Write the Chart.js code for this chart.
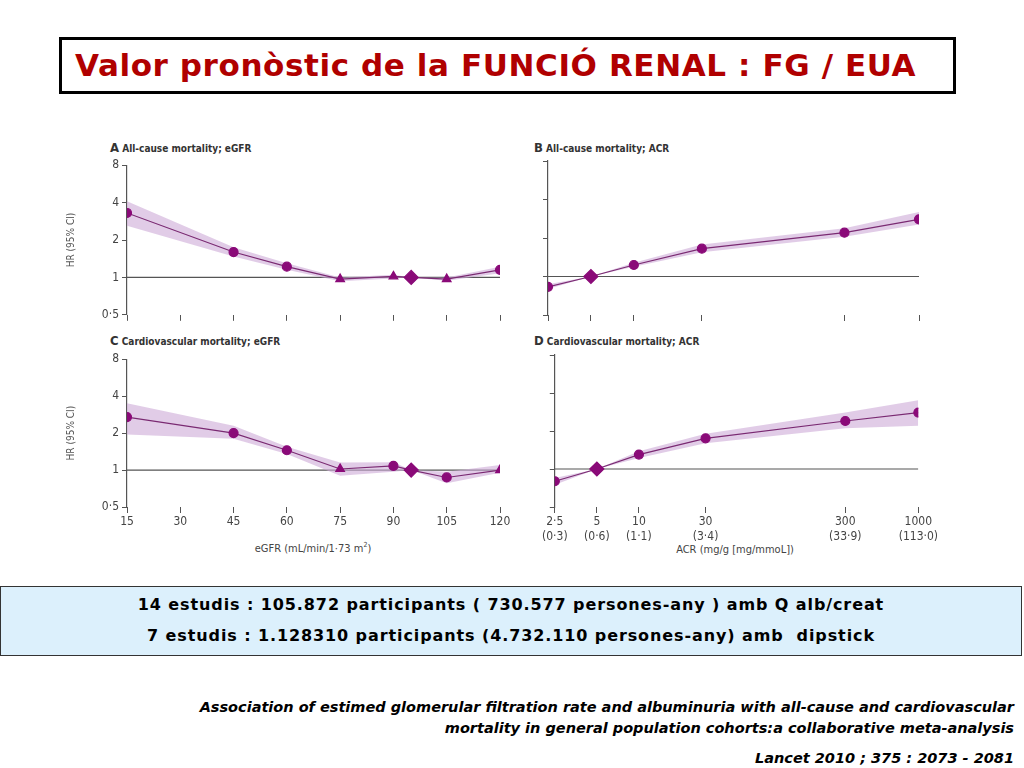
<!DOCTYPE html>
<html><head><meta charset="utf-8">
<script src="https://cdn.jsdelivr.net/npm/chart.js@4"></script>
<style>
body{margin:0;width:1024px;height:768px;background:#fff;position:relative;overflow:hidden;font-family:"DejaVu Sans",sans-serif}
.abs{position:absolute}
#title{left:59px;top:37px;height:51px;border:3px solid #000;color:#b00000;font-weight:bold;font-size:31px;line-height:51px;padding-left:13px;box-sizing:content-box;width:878px;letter-spacing:0.6px}
.pt{font-family:"DejaVu Sans Condensed","DejaVu Sans",sans-serif;font-size:10px;font-weight:bold;color:#333}
.pt b{font-size:13px}
.xt{font-family:"DejaVu Sans Condensed","DejaVu Sans",sans-serif;font-size:11px;color:#444;text-align:center;width:300px}
#info{left:0;top:586px;width:1020px;height:68px;background:#dcf0fc;border:1px solid #333;font-weight:bold;font-size:16px;letter-spacing:0.9px;text-align:center}
#cite{right:10px;top:697px;text-align:right;font-style:italic;font-weight:bold;font-size:14.5px;line-height:21px}
</style></head><body>
<div id="title" class="abs">Valor pronòstic de la FUNCIÓ RENAL : FG / EUA</div>
<div class="abs pt" style="left:110px;top:140px"><b>A</b> All-cause mortality; eGFR</div>
<div class="abs pt" style="left:534px;top:140px"><b>B</b> All-cause mortality; ACR</div>
<div class="abs pt" style="left:110px;top:333px"><b>C</b> Cardiovascular mortality; eGFR</div>
<div class="abs pt" style="left:534px;top:333px"><b>D</b> Cardiovascular mortality; ACR</div>
<div class="abs xt" style="left:163px;top:541px">eGFR (mL/min/1·73 m<sup style="font-size:7px">2</sup>)</div>
<div class="abs xt" style="left:585px;top:543px">ACR (mg/g [mg/mmoL])</div>
<canvas id="cA" class="abs" style="left:65px;top:155px"></canvas>
<canvas id="cB" class="abs" style="left:540px;top:155px"></canvas>
<canvas id="cC" class="abs" style="left:65px;top:349px"></canvas>
<canvas id="cD" class="abs" style="left:540px;top:349px"></canvas>
<div id="info" class="abs"><div style="margin-top:8px">14 estudis : 105.872 participants ( 730.577 persones-any ) amb Q alb/creat</div><div style="margin-top:12px">7 estudis : 1.128310 participants (4.732.110 persones-any) amb &nbsp;dipstick</div></div>
<div id="cite" class="abs">Association of estimed glomerular filtration rate and albuminuria with all-cause and cardiovascular<br>mortality in general population cohorts:a collaborative meta-analysis<div style="margin-top:9px">Lancet 2010 ; 375 : 2073 - 2081</div></div>
<script>
const egfrX=[15,45,60,75,90,95,105,120];
const acrX=[2.5,5,10,30,300,1000];
const egfrTicks=[15,30,45,60,75,90,105,120];
const acrTicks=[2.5,5,10,30,300,1000];
const acrTickLabels=[["2·5","(0·3)"],["5","(0·6)"],["10","(1·1)"],["30","(3·4)"],["300","(33·9)"],["1000","(113·0)"]];
const hrTicks=[0.5,1,2,4,8];
const hrTickLabels=["0·5","1","2","4","8"];

const hrA=[3.3,1.6,1.22,0.97,1.02,1,0.97,1.15];
const loA=[2.6,1.47,1.15,0.93,0.98,1,0.94,1.08];
const hiA=[4.1,1.75,1.3,1.0,1.05,1,1.0,1.22];
const stA=['circle','circle','circle','triangle','triangle','rectRot','triangle','circle'];

const hrB=[0.83,1,1.23,1.65,2.2,2.8];
const loB=[0.8,1,1.19,1.55,2.05,2.55];
const hiB=[0.87,1,1.28,1.78,2.38,3.2];
const stB=['circle','rectRot','circle','circle','circle','circle'];

const hrC=[2.7,2.0,1.45,1.02,1.08,1,0.87,1.0];
const loC=[1.95,1.8,1.35,0.9,0.97,1,0.78,0.95];
const hiC=[3.5,2.3,1.55,1.15,1.16,1,0.97,1.1];
const stC=['circle','circle','circle','triangle','circle','rectRot','circle','triangle'];

const hrD=[0.8,1,1.3,1.75,2.4,2.8];
const loD=[0.75,1,1.22,1.6,2.1,2.2];
const hiD=[0.85,1,1.38,1.9,2.8,3.5];
const stD=['circle','rectRot','circle','circle','circle','circle'];

const PUR='#8a0a78', LINE='#7a2a72', BAND='rgba(205,170,215,0.6)';
const FONT={family:'"DejaVu Sans Condensed","DejaVu Sans",sans-serif',size:12};

function mk(id,xs,hr,lo,hi,st,o){
  const pts=a=>xs.map((x,i)=>({x:x,y:a[i]}));
  const el=document.getElementById(id);
  new Chart(el,{type:'scatter',
    data:{datasets:[
      {data:pts(hi),showLine:true,borderWidth:0,pointRadius:0,fill:'+1',backgroundColor:BAND,order:2},
      {data:pts(lo),showLine:true,borderWidth:0,pointRadius:0,fill:false,order:2},
      {data:pts(hr),showLine:true,borderColor:LINE,borderWidth:1.2,backgroundColor:PUR,pointBorderColor:PUR,
       pointStyle:st,pointRadius:st.map(s=>s==='rectRot'?7:s==='triangle'?5:4.5),order:0},
      {data:[{x:xs[0],y:1},{x:xs[xs.length-1],y:1}],showLine:true,borderColor:'#555',borderWidth:1.2,pointRadius:0,order:3}
    ]},
    options:{responsive:false,animation:false,events:[],
      layout:{padding:{top:6,right:o.right,left:0,bottom:0}},
      plugins:{legend:{display:false},tooltip:{enabled:false}},
      scales:{
        x:{type:o.xlog?'logarithmic':'linear',min:xs[0],max:xs[xs.length-1],
          afterBuildTicks:s=>{s.ticks=o.xt.map(v=>({value:v}));},
          afterFit:s=>{s.height=o.xh;},
          border:{display:false},
          grid:{drawOnChartArea:false,drawTicks:true,tickLength:6,color:'#555'},
          ticks:{display:o.xlab!==null,color:'#444',font:FONT,maxRotation:0,autoSkip:false,padding:2,
            callback:(v,i)=>o.xlab?o.xlab[i]:''}},
        y:{type:'logarithmic',min:0.5,max:8,
          afterBuildTicks:s=>{s.ticks=hrTicks.map(v=>({value:v}));},
          afterFit:s=>{s.width=o.yw;},
          border:{display:true,color:'#555',width:1.2},
          grid:{drawOnChartArea:false,drawTicks:true,tickLength:5,color:'#555'},
          title:{display:o.ylab,text:'HR (95% CI)',color:'#555',font:{...FONT,size:10},padding:0},
          ticks:{display:o.ylab,color:'#444',font:FONT,padding:3,callback:(v,i)=>hrTickLabels[i]}}
      }}});
}
function setSize(id,w,h){const c=document.getElementById(id);c.width=w;c.height=h;c.style.width=w+'px';c.style.height=h+'px';}
setSize('cA',450,170);setSize('cB',400,170);setSize('cC',450,200);setSize('cD',400,200);
mk('cA',egfrX,hrA,loA,hiA,stA,{right:15,xh:10,yw:62,ylab:true,xt:egfrTicks,xlab:null,xlog:false});
mk('cB',acrX,hrB,loB,hiB,stB,{right:21,xh:10,yw:8,ylab:false,xt:acrTicks,xlab:null,xlog:true});
mk('cC',egfrX,hrC,loC,hiC,stC,{right:15,xh:42,yw:62,ylab:true,xt:egfrTicks,xlab:egfrTicks.map(String),xlog:false});
mk('cD',acrX,hrD,loD,hiD,stD,{right:21,xh:42,yw:8,ylab:false,xt:acrTicks,xlab:acrTickLabels,xlog:true});
</script></body></html>
